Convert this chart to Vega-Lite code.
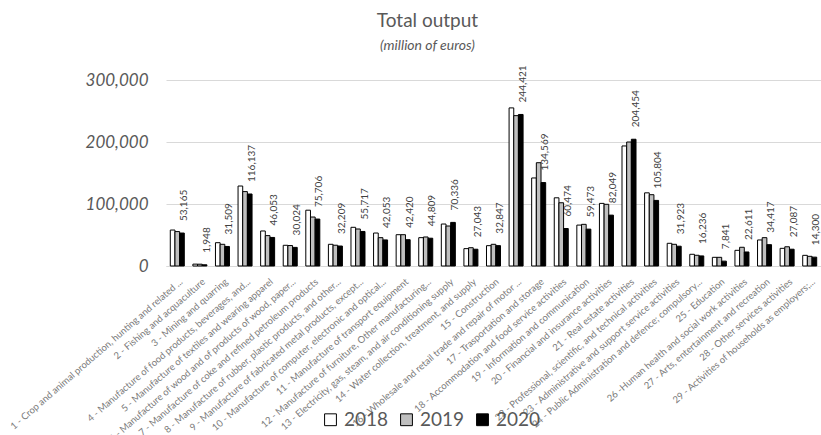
{
  "$schema": "https://vega.github.io/schema/vega-lite/v6.json",
  "width": 655,
  "height": 186,
  "autosize": {"type": "none"},
  "padding": {"left": 166, "top": 80, "right": 0, "bottom": 169},
  "background": "white",
  "title": {
    "text": "Total output",
    "subtitle": "(million of euros)",
    "font": "Lato",
    "fontSize": 19,
    "fontWeight": "normal",
    "color": "#595959",
    "subtitleFont": "Lato",
    "subtitleFontSize": 14,
    "subtitleFontStyle": "italic",
    "subtitleColor": "#595959",
    "subtitlePadding": 8,
    "anchor": "middle",
    "frame": "group",
    "dx": -66,
    "offset": 12
  },
  "config": {"view": {"stroke": null}},
  "datasets": {
    "output": [
      {"sector": "1 - Crop and animal production, hunting and related ...", "year": "2018", "value": 58000},
      {"sector": "1 - Crop and animal production, hunting and related ...", "year": "2019", "value": 55500},
      {"sector": "1 - Crop and animal production, hunting and related ...", "year": "2020", "value": 53165},
      {"sector": "2 - Fishing and acquaculture", "year": "2018", "value": 3000},
      {"sector": "2 - Fishing and acquaculture", "year": "2019", "value": 2900},
      {"sector": "2 - Fishing and acquaculture", "year": "2020", "value": 1948},
      {"sector": "3 - Mining and quarring", "year": "2018", "value": 37600},
      {"sector": "3 - Mining and quarring", "year": "2019", "value": 35000},
      {"sector": "3 - Mining and quarring", "year": "2020", "value": 31509},
      {"sector": "4 - Manufacture of food products, beverages, and...", "year": "2018", "value": 129000},
      {"sector": "4 - Manufacture of food products, beverages, and...", "year": "2019", "value": 120000},
      {"sector": "4 - Manufacture of food products, beverages, and...", "year": "2020", "value": 116137},
      {"sector": "5 - Manufacture of textiles and wearing apparel", "year": "2018", "value": 56500},
      {"sector": "5 - Manufacture of textiles and wearing apparel", "year": "2019", "value": 49000},
      {"sector": "5 - Manufacture of textiles and wearing apparel", "year": "2020", "value": 46053},
      {"sector": "6 - Manufacture of wood and of products of wood, paper...", "year": "2018", "value": 33400},
      {"sector": "6 - Manufacture of wood and of products of wood, paper...", "year": "2019", "value": 33000},
      {"sector": "6 - Manufacture of wood and of products of wood, paper...", "year": "2020", "value": 30024},
      {"sector": "7 - Manufacture of coke and refined petroleum products", "year": "2018", "value": 90000},
      {"sector": "7 - Manufacture of coke and refined petroleum products", "year": "2019", "value": 79000},
      {"sector": "7 - Manufacture of coke and refined petroleum products", "year": "2020", "value": 75706},
      {"sector": "8 - Manufacture of rubber, plastic products, and other...", "year": "2018", "value": 35000},
      {"sector": "8 - Manufacture of rubber, plastic products, and other...", "year": "2019", "value": 33500},
      {"sector": "8 - Manufacture of rubber, plastic products, and other...", "year": "2020", "value": 32209},
      {"sector": "9 - Manufacture of fabricated metal products, except...", "year": "2018", "value": 62400},
      {"sector": "9 - Manufacture of fabricated metal products, except...", "year": "2019", "value": 59700},
      {"sector": "9 - Manufacture of fabricated metal products, except...", "year": "2020", "value": 55717},
      {"sector": "10 - Manufacture of computer, electronic and optical...", "year": "2018", "value": 53200},
      {"sector": "10 - Manufacture of computer, electronic and optical...", "year": "2019", "value": 45700},
      {"sector": "10 - Manufacture of computer, electronic and optical...", "year": "2020", "value": 42053},
      {"sector": "11 - Manufacture of transport equipment", "year": "2018", "value": 50500},
      {"sector": "11 - Manufacture of transport equipment", "year": "2019", "value": 50500},
      {"sector": "11 - Manufacture of transport equipment", "year": "2020", "value": 42420},
      {"sector": "12 - Manufacture of furniture, Other manufacturing...", "year": "2018", "value": 45700},
      {"sector": "12 - Manufacture of furniture, Other manufacturing...", "year": "2019", "value": 46800},
      {"sector": "12 - Manufacture of furniture, Other manufacturing...", "year": "2020", "value": 44809},
      {"sector": "13 - Electricity, gas, steam, and air conditioning supply", "year": "2018", "value": 67700},
      {"sector": "13 - Electricity, gas, steam, and air conditioning supply", "year": "2019", "value": 64500},
      {"sector": "13 - Electricity, gas, steam, and air conditioning supply", "year": "2020", "value": 70336},
      {"sector": "14 - Water collection, treatment, and supply", "year": "2018", "value": 28000},
      {"sector": "14 - Water collection, treatment, and supply", "year": "2019", "value": 29500},
      {"sector": "14 - Water collection, treatment, and supply", "year": "2020", "value": 27043},
      {"sector": "15 - Construction", "year": "2018", "value": 32800},
      {"sector": "15 - Construction", "year": "2019", "value": 35000},
      {"sector": "15 - Construction", "year": "2020", "value": 32847},
      {"sector": "16 - Wholesale and retail trade and repair of motor ...", "year": "2018", "value": 255000},
      {"sector": "16 - Wholesale and retail trade and repair of motor ...", "year": "2019", "value": 242500},
      {"sector": "16 - Wholesale and retail trade and repair of motor ...", "year": "2020", "value": 244421},
      {"sector": "17 - Trasportation and storage", "year": "2018", "value": 142000},
      {"sector": "17 - Trasportation and storage", "year": "2019", "value": 166600},
      {"sector": "17 - Trasportation and storage", "year": "2020", "value": 134569},
      {"sector": "18 - Accommodation and food service activities", "year": "2018", "value": 110000},
      {"sector": "18 - Accommodation and food service activities", "year": "2019", "value": 102000},
      {"sector": "18 - Accommodation and food service activities", "year": "2020", "value": 60474},
      {"sector": "19 - Information and communication", "year": "2018", "value": 66000},
      {"sector": "19 - Information and communication", "year": "2019", "value": 67200},
      {"sector": "19 - Information and communication", "year": "2020", "value": 59473},
      {"sector": "20 - Financial and insurance activities", "year": "2018", "value": 101000},
      {"sector": "20 - Financial and insurance activities", "year": "2019", "value": 99500},
      {"sector": "20 - Financial and insurance activities", "year": "2020", "value": 82049},
      {"sector": "21 - Real estate activities", "year": "2018", "value": 193600},
      {"sector": "21 - Real estate activities", "year": "2019", "value": 200000},
      {"sector": "21 - Real estate activities", "year": "2020", "value": 204454},
      {"sector": "22 - Professional, scientific, and technical activities", "year": "2018", "value": 118000},
      {"sector": "22 - Professional, scientific, and technical activities", "year": "2019", "value": 115000},
      {"sector": "22 - Professional, scientific, and technical activities", "year": "2020", "value": 105804},
      {"sector": "23 - Administrative and support service activities", "year": "2018", "value": 36600},
      {"sector": "23 - Administrative and support service activities", "year": "2019", "value": 35000},
      {"sector": "23 - Administrative and support service activities", "year": "2020", "value": 31923},
      {"sector": "24 - Public Administration and defence; compulsory...", "year": "2018", "value": 18900},
      {"sector": "24 - Public Administration and defence; compulsory...", "year": "2019", "value": 17300},
      {"sector": "24 - Public Administration and defence; compulsory...", "year": "2020", "value": 16236},
      {"sector": "25 - Education", "year": "2018", "value": 14000},
      {"sector": "25 - Education", "year": "2019", "value": 14000},
      {"sector": "25 - Education", "year": "2020", "value": 7841},
      {"sector": "26 -Human health and social work activities", "year": "2018", "value": 25300},
      {"sector": "26 -Human health and social work activities", "year": "2019", "value": 30200},
      {"sector": "26 -Human health and social work activities", "year": "2020", "value": 22611},
      {"sector": "27 - Arts, entertainment and recreation", "year": "2018", "value": 42000},
      {"sector": "27 - Arts, entertainment and recreation", "year": "2019", "value": 45700},
      {"sector": "27 - Arts, entertainment and recreation", "year": "2020", "value": 34417},
      {"sector": "28 - Other services activities", "year": "2018", "value": 28500},
      {"sector": "28 - Other services activities", "year": "2019", "value": 31000},
      {"sector": "28 - Other services activities", "year": "2020", "value": 27087},
      {"sector": "29 - Activities of households as employers;...", "year": "2018", "value": 17200},
      {"sector": "29 - Activities of households as employers;...", "year": "2019", "value": 15600},
      {"sector": "29 - Activities of households as employers;...", "year": "2020", "value": 14300}
    ]
  },
  "data": {"name": "output"},
  "layer": [
    {
      "mark": {"type": "bar", "stroke": "#000000", "strokeWidth": 1},
      "encoding": {
        "x": {
          "field": "sector",
          "type": "nominal",
          "sort": null,
          "title": null,
          "scale": {"paddingInner": 0.38, "paddingOuter": 0.19},
          "axis": {
            "labelAngle": -41,
            "labelAlign": "right",
            "labelBaseline": "middle",
            "labelFont": "Lato",
            "labelFontSize": 9.5,
            "labelColor": "#7a7a7a",
            "labelLimit": 400,
            "labelOverlap": false,
            "labelPadding": 14,
            "labelOffset": 4,
            "ticks": false,
            "domainColor": "#d9d9d9",
            "grid": false
          }
        },
        "xOffset": {"field": "year", "type": "nominal", "sort": ["2018", "2019", "2020"]},
        "y": {
          "field": "value",
          "type": "quantitative",
          "title": null,
          "scale": {"domain": [0, 300000]},
          "axis": {
            "values": [0, 50000, 100000, 150000, 200000, 250000, 300000],
            "format": ",.0f",
            "formatType": "number",
            "labelFont": "Lato",
            "labelFontSize": 17,
            "labelFontStyle": "italic",
            "labelColor": "#595959",
            "labelPadding": 18,
            "domain": false,
            "ticks": false,
            "gridColor": "#d9d9d9",
            "gridWidth": 1
          }
        },
        "fill": {
          "field": "year",
          "type": "nominal",
          "scale": {"domain": ["2018", "2019", "2020"], "range": ["#ffffff", "#bfbfbf", "#000000"]},
          "legend": {
            "title": null,
            "orient": "none",
            "legendX": 155,
            "legendY": 330,
            "direction": "horizontal",
            "symbolType": "square",
            "symbolSize": 140,
            "symbolStrokeColor": "#000000",
            "symbolStrokeWidth": 1,
            "labelFont": "Lato",
            "labelFontSize": 19,
            "labelColor": "#595959",
            "labelOffset": 4,
            "columnPadding": 8
          }
        }
      }
    },
    {
      "transform": [{"filter": "datum.year == '2020'"}],
      "mark": {
        "type": "text",
        "angle": 270,
        "align": "left",
        "baseline": "middle",
        "dx": 12,
        "dy": 2,
        "font": "Lato",
        "fontSize": 10,
        "color": "#404040"
      },
      "encoding": {
        "x": {"field": "sector", "type": "nominal", "sort": null},
        "xOffset": {"field": "year", "type": "nominal", "sort": ["2018", "2019", "2020"]},
        "y": {"field": "value", "type": "quantitative"},
        "text": {"field": "value", "type": "quantitative", "format": ","}
      }
    }
  ]
}
